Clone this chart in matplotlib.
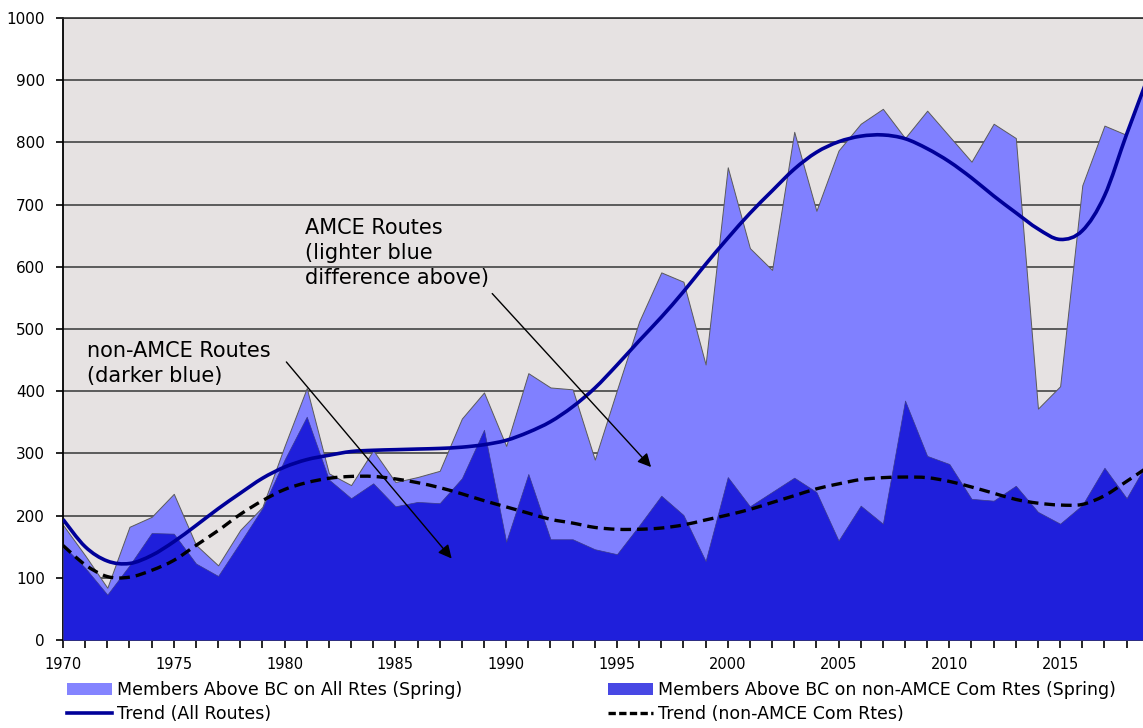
import matplotlib
matplotlib.use("Agg")
import matplotlib.pyplot as plt
from matplotlib.patches import Patch, PathPatch
from matplotlib.lines import Line2D
from matplotlib.path import Path

years = list(range(1970, 2020))

all_routes = [185, 136, 84, 182, 198, 235, 153, 120, 177, 214,
              312, 405, 268, 249, 305, 254, 262, 272, 356, 398,
              312, 429, 406, 403, 290, 402, 512, 591, 576, 443,
              760, 630, 595, 817, 690, 787, 830, 854, 807, 851,
              810, 769, 830, 807, 372, 408, 731, 827, 812, 908]

non_amce = [152, 116, 73, 120, 172, 171, 123, 103, 157, 212,
            290, 359, 258, 228, 252, 215, 222, 220, 260, 338,
            158, 267, 162, 162, 146, 138, 184, 232, 201, 127,
            262, 215, 238, 261, 238, 160, 216, 187, 385, 296,
            283, 227, 224, 248, 206, 187, 217, 277, 228, 290]

trend_all = [194, 150, 127, 123, 136, 158, 184, 211, 236, 260,
             278, 290, 297, 303, 305, 306, 307, 308, 310, 314,
             321, 334, 351, 375, 405, 442, 481, 519, 560, 604,
             646, 686, 722, 757, 784, 801, 810, 812, 806, 790,
             769, 743, 714, 687, 661, 644, 658, 714, 813, 908]

trend_non_amce = [152, 121, 102, 101, 112, 128, 152, 176, 202, 224,
                  242, 253, 260, 263, 263, 259, 253, 245, 235, 224,
                  214, 204, 194, 188, 181, 178, 178, 180, 185, 193,
                  201, 210, 221, 232, 243, 251, 258, 261, 262, 261,
                  255, 246, 236, 226, 220, 217, 218, 232, 255, 279]

labels = ["Members Above BC on All Rtes (Spring)",
          "Trend (All Routes)",
          "Members Above BC on non-AMCE Com Rtes (Spring)",
          "Trend (non-AMCE Com Rtes)"]

C_LIGHT = "#8080FF"
C_DARK = "#1F1FDB"
C_TREND = "#000099"

plt.rcParams['font.family'] = ['DejaVu Sans']


def smooth_path(xs, ys):
    """Smoothed line through the given points (Catmull-Rom as Bezier)."""
    pts = list(zip(xs, ys))
    n = len(pts)
    verts = [pts[0]]
    codes = [Path.MOVETO]
    for i in range(n - 1):
        p0 = pts[i - 1] if i > 0 else pts[i]
        p1 = pts[i]
        p2 = pts[i + 1]
        p3 = pts[i + 2] if i + 2 < n else pts[i + 1]
        c1 = (p1[0] + (p2[0] - p0[0]) / 6.0, p1[1] + (p2[1] - p0[1]) / 6.0)
        c2 = (p2[0] - (p3[0] - p1[0]) / 6.0, p2[1] - (p3[1] - p1[1]) / 6.0)
        verts += [c1, c2, p2]
        codes += [Path.CURVE4] * 3
    return Path(verts, codes)


fig = plt.figure(figsize=(11.43, 7.28), dpi=100)
ax = fig.add_axes([63 / 1143, 88 / 728, 1080 / 1143, 622 / 728])
ax.set_facecolor("#E6E2E2")

ax.fill_between(years, 0, all_routes, facecolor=C_LIGHT, edgecolor="#5a5a5a",
                linewidth=0.7, zorder=2)
ax.fill_between(years, 0, non_amce, facecolor=C_DARK, edgecolor="#3a3a8a",
                linewidth=0.5, zorder=3)
ax.add_patch(PathPatch(smooth_path(years, trend_all), fill=False,
                       edgecolor=C_TREND, linewidth=2.6, zorder=5))
ax.add_patch(PathPatch(smooth_path(years, trend_non_amce), fill=False,
                       edgecolor="black", linewidth=2.4, linestyle=(0, (3.2, 1.8)),
                       zorder=5))

ax.set_yticks(range(0, 1001, 100))
ax.set_xticks(years)
ax.set_xticklabels([str(y) if y % 5 == 0 else "" for y in years])
ax.set_xlim(1970, 2018.74)
ax.set_ylim(0, 1000)
ax.tick_params(axis='y', labelsize=11, length=5, width=1.2, pad=8)
ax.tick_params(axis='x', labelsize=10.5, length=6, width=1.2, pad=6)

ax.set_axisbelow(True)
ax.yaxis.grid(True, color="#505050", linewidth=1.3)
ax.xaxis.grid(False)
ax.spines["right"].set_visible(False)
ax.spines["top"].set_color("#303030")
ax.spines["top"].set_linewidth(1.2)
ax.spines["left"].set_linewidth(1.3)
ax.spines["bottom"].set_linewidth(1.3)

ax.text(1980.9, 678, "AMCE Routes\n(lighter blue\ndifference above)",
        fontsize=15, ha="left", va="top", linespacing=1.3, zorder=6)
ax.text(1971.1, 481, "non-AMCE Routes\n(darker blue)",
        fontsize=15, ha="left", va="top", linespacing=1.3, zorder=6)

arrow_kw = dict(arrowstyle="-|>", color="black", lw=1.0, mutation_scale=20,
                shrinkA=0, shrinkB=0)
ax.annotate("", xy=(1996.54, 278), xytext=(1989.37, 557),
            arrowprops=arrow_kw, zorder=7)
ax.annotate("", xy=(1987.54, 131), xytext=(1980.08, 447),
            arrowprops=arrow_kw, zorder=7)

h_light = Patch(facecolor="#8484FF", edgecolor="none")
h_dark = Patch(facecolor="#4848E4", edgecolor="none")
h_trend = Line2D([], [], color=C_TREND, linewidth=2.6)
h_dash = Line2D([], [], color="black", linewidth=2.4, dashes=(2.2, 1.0))

leg_kw = dict(loc="upper left", frameon=False, fontsize=12.5, borderpad=0,
              borderaxespad=0, handlelength=2.6, handletextpad=0.3,
              handleheight=0.75, labelspacing=0.35)
leg1 = fig.legend([h_light, h_trend], [labels[0], labels[1]],
                  bbox_to_anchor=(67 / 1143, 1 - 681 / 728), **leg_kw)
leg2 = fig.legend([h_dark, h_dash], [labels[2], labels[3]],
                  bbox_to_anchor=(608 / 1143, 1 - 681 / 728), **leg_kw)

fig.savefig("out.png", dpi=100)
